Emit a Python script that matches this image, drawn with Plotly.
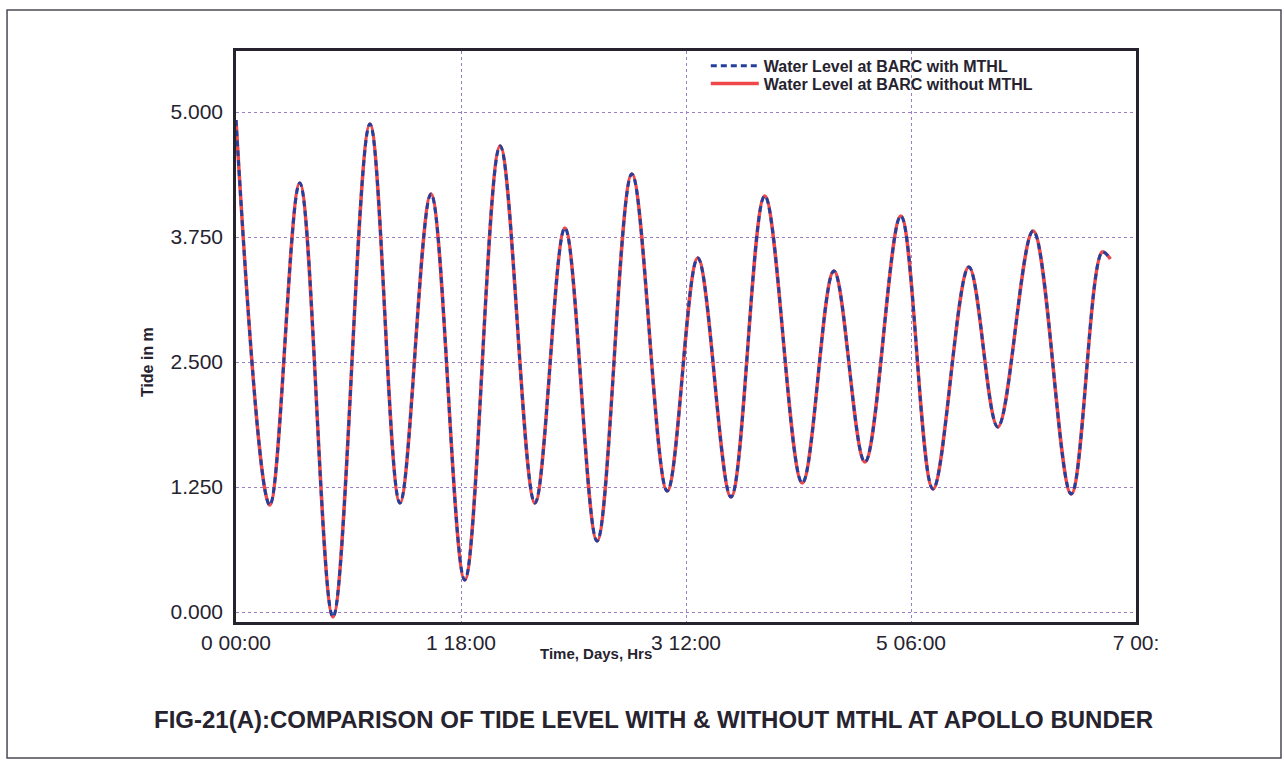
import plotly.graph_objects as go

# Tide extremes at BARC (hours from start, level in m)
hours = [0.0, 6.3, 11.9, 18.1, 25.0, 30.6, 36.4, 42.7, 49.3, 55.8, 61.4, 67.4,
         73.9, 80.5, 86.2, 92.4, 98.7, 105.7, 111.6, 117.4, 124.1, 130.1,
         136.8, 142.2, 148.8, 155.9, 161.7, 163.2]
level_with = [4.92, 1.07, 4.29, -0.05, 4.88, 1.09, 4.18, 0.32, 4.66, 1.09, 3.84, 0.71,
              4.38, 1.21, 3.54, 1.15, 4.16, 1.29, 3.41, 1.50, 3.96, 1.23,
              3.45, 1.85, 3.81, 1.18, 3.60, 3.53]
level_without = [4.92, 1.07, 4.29, -0.05, 4.88, 1.09, 4.18, 0.32, 4.66, 1.09, 3.84, 0.71,
                 4.38, 1.21, 3.54, 1.15, 4.16, 1.29, 3.41, 1.50, 3.96, 1.23,
                 3.45, 1.85, 3.81, 1.18, 3.60, 3.53]

x_tick_vals = [0, 42, 84, 126, 168]
x_tick_text = ["0 00:00", "1 18:00", "3 12:00", "5 06:00", "7 00:"]
y_tick_vals = [0.0, 1.25, 2.5, 3.75, 5.0]

FONT = "Arial, Liberation Sans, sans-serif"
INK = "#26232f"
GRID = "#9b7fc4"

fig = go.Figure()

fig.add_trace(go.Scatter(
    x=hours, y=level_without, mode="lines",
    name="Water Level at BARC without MTHL",
    line=dict(color="#f04848", width=3.5, shape="spline", smoothing=1.0),
    legend="legend2",
))
fig.add_trace(go.Scatter(
    x=hours, y=level_with, mode="lines",
    name="Water Level at BARC with MTHL",
    line=dict(color="#25409c", width=3, dash="6px,4px", shape="spline", smoothing=1.0),
    legend="legend",
))

axis_common = dict(
    showline=True, mirror=True, linecolor=INK, linewidth=2.5,
    showgrid=True, gridcolor=GRID, gridwidth=1, griddash="dot",
    zeroline=False, ticks="",
    tickfont=dict(family=FONT, size=21, color=INK),
)

legend_common = dict(
    x=0.522, xanchor="left", yanchor="middle",
    bgcolor="rgba(0,0,0,0)", borderwidth=0,
    font=dict(family=FONT, size=16, color=INK, weight="bold"),
    itemwidth=48,
)

fig.update_layout(
    width=1284, height=762,
    paper_bgcolor="white", plot_bgcolor="white",
    margin=dict(l=236, r=148, t=51, b=140),
    showlegend=True,
    legend=dict(y=0.974, **legend_common),
    legend2=dict(y=0.943, **legend_common),
    xaxis=dict(range=[0, 168], tickmode="array", tickvals=x_tick_vals,
               ticktext=x_tick_text, ticklabelstandoff=0, **axis_common),
    yaxis=dict(range=[-0.1, 5.61], tickmode="array", tickvals=y_tick_vals,
               tickformat=".3f", ticklabelstandoff=6, **axis_common),
    shapes=[dict(type="rect", xref="paper", yref="paper",
                 x0=-0.2544, x1=1.1611, y0=-0.2382, y1=1.0718,
                 line=dict(color="#4a4a55", width=1.5), layer="below")],
    annotations=[
        dict(text="<b>Tide in m</b>", xref="paper", yref="paper",
             x=-0.099, y=0.455, textangle=-90, showarrow=False,
             xanchor="center", yanchor="middle",
             font=dict(family=FONT, size=16, color=INK)),
        dict(text="<b>Time, Days, Hrs</b>", xref="paper", yref="paper",
             x=0.400, y=-0.056, showarrow=False,
             xanchor="center", yanchor="middle",
             font=dict(family=FONT, size=15, color=INK)),
        dict(text="<b>FIG-21(A):COMPARISON OF TIDE LEVEL WITH &amp; WITHOUT MTHL AT APOLLO BUNDER</b>",
             xref="paper", yref="paper", x=0.4644, y=-0.1716, showarrow=False,
             xanchor="center", yanchor="middle",
             font=dict(family=FONT, size=24, color=INK)),
    ],
)

fig.write_html("out.html")
